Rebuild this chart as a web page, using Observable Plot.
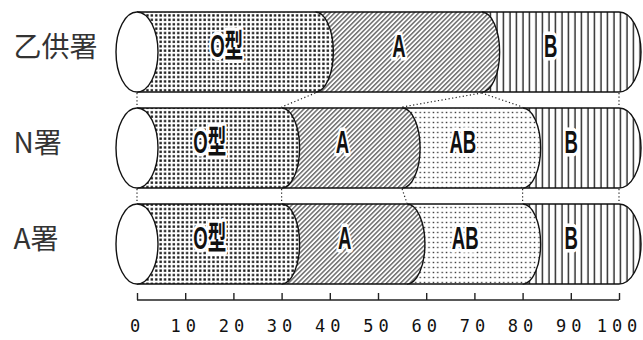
<!DOCTYPE html>
<html><head><meta charset="utf-8">
<script src="https://cdn.jsdelivr.net/npm/d3@7"></script>
<script src="https://cdn.jsdelivr.net/npm/@observablehq/plot@0.6"></script>
<style>
html,body{margin:0;padding:0;background:#fff;}
svg text{paint-order:stroke;}
[aria-label="x-axis tick label"] text{letter-spacing:5px;}
[aria-label="x-axis tick"]{stroke-width:1.4px;}
</style></head><body><div id="chart"></div>
<script>
// ---- data (percent of each blood type) ----
const rows    = ["乙供署", "N署", "A署"];
const types   = ["O型", "A", "AB", "B"];
const oShare  = [37, 30, 30];
const aShare  = [34.5, 25, 26];
const abShare = [0, 25, 24];
const bShare  = [28.5, 20, 20];
const ticks   = [0, 10, 20, 30, 40, 50, 60, 70, 80, 90, 100];

// ---- derived tables ----
const shares = [oShare, aShare, abShare, bShare];
const segments = [];
rows.forEach((row, i) => {
  let x0 = 0;
  types.forEach((t, j) => {
    const v = shares[j][i];
    if (v > 0) segments.push({row, type: t, x1: x0, x2: x0 + v});
    x0 += v;
  });
});
const connectors = [];
for (let i = 0; i < rows.length - 1; i++) {
  const up = segments.filter(s => s.row === rows[i]);
  const lo = segments.filter(s => s.row === rows[i + 1]);
  const seen = new Set();
  for (const u of up) {
    const l = lo.find(s => s.type === u.type);
    if (!l) continue;
    for (const [a, b] of [[u.x1, l.x1], [u.x2, l.x2]]) {
      const k = a + "|" + b;
      if (!seen.has(k)) { seen.add(k); connectors.push({from: rows[i], to: rows[i + 1], a, b}); }
    }
  }
}
const patternOf = {"O型": "pat-O", "A": "pat-A", "AB": "pat-AB", "B": "pat-B"};

function cylinders(index, scales, values, dimensions) {
  let sc = scales, dim = dimensions;
  if (!sc || typeof sc.x !== "function") { sc = arguments[0]; dim = arguments[1]; }
  const sx = sc.x, sy = sc.y;
  const bw = typeof sy.bandwidth === "function" ? sy.bandwidth() : sy.bandwidth;
  const rx = 18, ry = bw / 2;
  const g = d3.create("svg:g");
  const defs = g.append("defs");
  // O: bold dots
  let p = defs.append("pattern").attr("id", "pat-O").attr("patternUnits", "userSpaceOnUse").attr("width", 4.4).attr("height", 4.4);
  p.append("rect").attr("width", 4.4).attr("height", 4.4).attr("fill", "white");
  p.append("rect").attr("x", 1.1).attr("y", 1.1).attr("width", 2.3).attr("height", 2.3).attr("fill", "#111");
  // A: diagonal hatch
  p = defs.append("pattern").attr("id", "pat-A").attr("patternUnits", "userSpaceOnUse").attr("width", 3.3).attr("height", 3.3).attr("patternTransform", "rotate(45)");
  p.append("rect").attr("width", 3.3).attr("height", 3.3).attr("fill", "white");
  p.append("line").attr("x1", 1.6).attr("x2", 1.6).attr("y1", 0).attr("y2", 3.3).attr("stroke", "#222").attr("stroke-width", 1);
  // AB: light dots
  p = defs.append("pattern").attr("id", "pat-AB").attr("patternUnits", "userSpaceOnUse").attr("width", 4.4).attr("height", 5);
  p.append("rect").attr("width", 4.4).attr("height", 5).attr("fill", "white");
  p.append("rect").attr("x", 1.5).attr("y", 1.8).attr("width", 1.4).attr("height", 1.4).attr("fill", "#333");
  // B: vertical lines
  p = defs.append("pattern").attr("id", "pat-B").attr("patternUnits", "userSpaceOnUse").attr("width", 6.5).attr("height", 10);
  p.append("rect").attr("width", 6.5).attr("height", 10).attr("fill", "white");
  p.append("line").attr("x1", 3).attr("x2", 3).attr("y1", 0).attr("y2", 10).attr("stroke", "#111").attr("stroke-width", 1.3);

  // dotted connectors between rows
  for (const c of connectors) {
    g.append("line")
      .attr("x1", sx(c.a)).attr("y1", sy(c.from) + bw + 1)
      .attr("x2", sx(c.b)).attr("y2", sy(c.to) - 1)
      .attr("stroke", "#222").attr("stroke-width", 1.2).attr("stroke-dasharray", "1.2 2.4");
  }
  // cylinders
  for (const row of rows) {
    const top = sy(row), bot = top + bw;
    const segs = segments.filter(s => s.row === row).reverse();
    for (const s of segs) {
      const x0 = sx(s.x1), x1 = sx(s.x2);
      const r = s.x2 >= 100 ? rx + 4 : rx;
      g.append("path")
        .attr("d", `M${x0},${top}L${x1},${top}A${r},${ry} 0 0 1 ${x1},${bot}L${x0},${bot}`)
        .attr("fill", `url(#${patternOf[s.type]})`)
        .attr("stroke", "#111").attr("stroke-width", 1.4);
    }
    g.append("ellipse")
      .attr("cx", sx(0)).attr("cy", top + ry).attr("rx", 21).attr("ry", ry)
      .attr("fill", "white").attr("stroke", "#111").attr("stroke-width", 1.4);
  }
  // axis baseline
  const yb = dim.height - dim.marginBottom + 16;
  g.append("line").attr("x1", sx(ticks[0])).attr("x2", sx(ticks[ticks.length - 1]))
    .attr("y1", yb).attr("y2", yb).attr("stroke", "#222").attr("stroke-width", 1.4);
  return g.node();
}

const chart = Plot.plot({
  width: 643,
  height: 340,
  marginLeft: 137,
  marginRight: 24,
  marginTop: 11,
  marginBottom: 56,
  style: {background: "white", color: "#222"},
  x: {domain: [0, 100], axis: null},
  y: {type: "band", domain: rows, paddingInner: 0.17, paddingOuter: 0, axis: null},
  marks: [
    cylinders,
    Plot.axisX(ticks, {anchor: "bottom", tickSize: 7, tickPadding: 19, dy: 9, fontSize: 17,
      fontFamily: "'DejaVu Sans Mono', 'Liberation Mono', monospace", fill: "#111"}),
    Plot.text(segments, {x: d => (d.x1 + d.x2) / 2, y: "row", text: "type", dy: -6,
      fontSize: 32, fontWeight: "bold", fontFamily: "'Liberation Sans', 'Noto Sans CJK JP', sans-serif",
      fill: "#111", stroke: "white", strokeWidth: 7}),
    Plot.text(rows, {y: d => d, text: d => d, frameAnchor: "left", textAnchor: "start", dx: -124, dy: -4,
      fontSize: 28, fontFamily: "'Noto Sans CJK JP', sans-serif", fill: "#333"})
  ]
});
// condense the in-bar labels horizontally (narrow lettering)
const textGroups = chart.querySelectorAll('g[aria-label="text"]');
if (textGroups.length) {
  d3.select(textGroups[0]).selectAll("text").each(function() {
    const t = d3.select(this);
    const tr = t.attr("transform");
    if (tr) {
      t.attr("transform", tr + " scale(0.58,1)");
    } else {
      const x = +t.attr("x") || 0, y = +t.attr("y") || 0;
      t.attr("x", null).attr("y", null).attr("transform", `translate(${x},${y}) scale(0.58,1)`);
    }
  });
}
document.getElementById("chart").appendChild(chart);
</script>
</body></html>
